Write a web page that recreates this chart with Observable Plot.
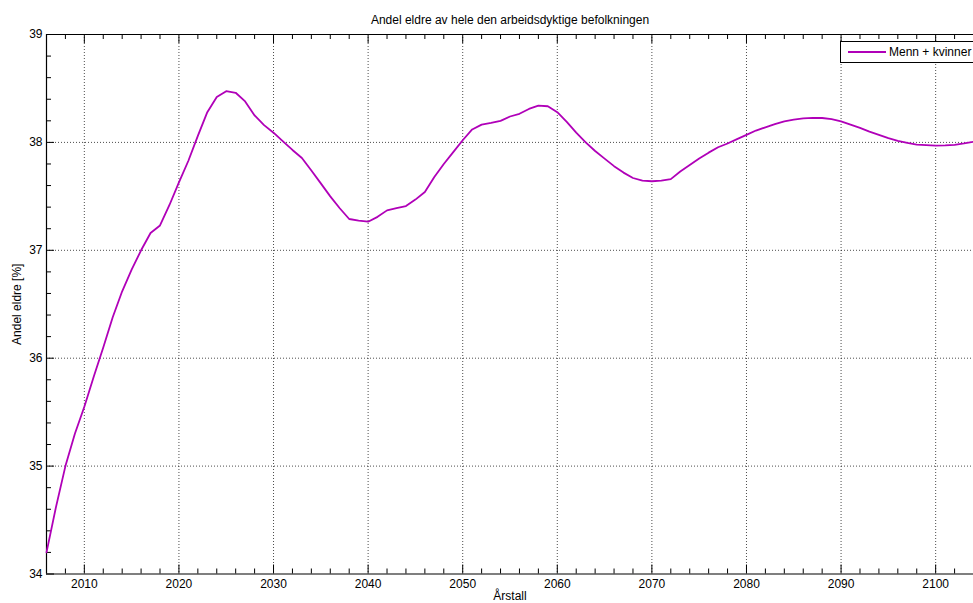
<!DOCTYPE html>
<html>
<head>
<meta charset="utf-8">
<script src="https://cdn.jsdelivr.net/npm/d3@7"></script>
<script src="https://cdn.jsdelivr.net/npm/@observablehq/plot@0.6"></script>
<style>
  html, body { margin: 0; padding: 0; background: #fff; }
  #wrap { position: relative; width: 973px; height: 603px; overflow: hidden; background: #fff; }
  #legend { position: absolute; left: 840px; top: 41px; width: 150px; height: 22px; box-sizing: border-box;
            border: 1px solid #000; background: #fff; font: 12px "Liberation Sans", Arial, sans-serif; color: #000; }
  #legend .swatch { position: absolute; left: 7px; top: 9px; width: 38px; height: 0; border-top: 2px solid #b000b8; }
  #legend .lab { position: absolute; left: 48px; top: 3px; white-space: nowrap; }
</style>
</head>
<body>
<div id="wrap"><div id="chart"></div>
  <div id="legend"><div class="swatch"></div><div class="lab" id="legendLabel"></div></div>
</div>
<script>
const title = "Andel eldre av hele den arbeidsdyktige befolkningen";
const xLabel = "Årstall";
const yLabel = "Andel eldre [%]";
const seriesName = "Menn + kvinner";

const years = [2006,2007,2008,2009,2010,2011,2012,2013,2014,2015,2016,2017,2018,2019,
  2020,2021,2022,2023,2024,2025,2026,2027,2028,2029,2030,2031,2032,2033,2034,2035,2036,2037,2038,2039,
  2040,2041,2042,2043,2044,2045,2046,2047,2048,2049,2050,2051,2052,2053,2054,2055,2056,2057,2058,2059,
  2060,2061,2062,2063,2064,2065,2066,2067,2068,2069,2070,2071,2072,2073,2074,2075,2076,2077,2078,2079,
  2080,2081,2082,2083,2084,2085,2086,2087,2088,2089,2090,2091,2092,2093,2094,2095,2096,2097,2098,2099,
  2100,2101,2102,2103,2104];
const values = [34.20,34.62,35.00,35.30,35.55,35.83,36.10,36.38,36.62,36.82,37.00,37.16,37.23,37.42,
  37.63,37.83,38.06,38.28,38.42,38.475,38.46,38.38,38.25,38.16,38.09,38.01,37.93,37.855,37.74,37.62,37.50,37.39,37.29,37.275,
  37.265,37.31,37.37,37.39,37.41,37.47,37.54,37.68,37.80,37.91,38.02,38.12,38.165,38.18,38.20,38.24,38.265,38.31,38.34,38.335,
  38.28,38.19,38.09,38.00,37.92,37.85,37.78,37.72,37.67,37.645,37.64,37.645,37.66,37.73,37.79,37.85,37.905,37.955,37.99,38.03,
  38.07,38.11,38.14,38.17,38.195,38.212,38.222,38.228,38.226,38.215,38.195,38.165,38.135,38.10,38.07,38.04,38.015,37.995,37.98,37.975,
  37.97,37.972,37.978,37.99,38.005];

const xMajor = [2010,2020,2030,2040,2050,2060,2070,2080,2090,2100];
const xMinor = [2008,2012,2014,2016,2018,2022,2024,2026,2028,2032,2034,2036,2038,2042,2044,2046,2048,
  2052,2054,2056,2058,2062,2064,2066,2068,2072,2074,2076,2078,2082,2084,2086,2088,2092,2094,2096,2098,2102];
const yMajor = [34,35,36,37,38,39];
const yMinor = [34.2,34.4,34.6,34.8,35.2,35.4,35.6,35.8,36.2,36.4,36.6,36.8,37.2,37.4,37.6,37.8,38.2,38.4,38.6,38.8];
const xDomain = [2006, 2104];
const yDomain = [34, 39];

const data = years.map((y, i) => ({year: y, value: values[i]}));
const lineColor = "#b000b8";
const font = "'Liberation Sans', Arial, sans-serif";

const chart = Plot.plot({
  width: 973,
  height: 603,
  marginLeft: 46,
  marginRight: 0,
  marginTop: 34,
  marginBottom: 29.5,
  style: {fontFamily: font, fontSize: "12px", background: "#fff", color: "#000"},
  x: {domain: xDomain},
  y: {domain: yDomain},
  marks: [
    Plot.gridX(xMajor, {stroke: "#000", strokeOpacity: 0.7, strokeDasharray: "1,2"}),
    Plot.gridY(yMajor.filter(v => v > yDomain[0] && v < yDomain[1]), {stroke: "#000", strokeOpacity: 0.7, strokeDasharray: "1,2"}),
    Plot.axisX(xMajor, {tickSize: 0, tickPadding: 5, tickFormat: d => String(d), label: null, fontSize: 12}),
    Plot.axisY(yMajor, {tickSize: 0, tickPadding: 4, tickFormat: d => String(d), label: null, fontSize: 12}),
    // inward ticks, bottom and top
    Plot.ruleX(xMajor, {y1: yDomain[0], y2: yDomain[0], insetBottom: 9, stroke: "#000"}),
    Plot.ruleX(xMinor, {y1: yDomain[0], y2: yDomain[0], insetBottom: 5, stroke: "#000"}),
    Plot.ruleX(xMajor, {y1: yDomain[1], y2: yDomain[1], insetTop: 9, stroke: "#000"}),
    Plot.ruleX(xMinor, {y1: yDomain[1], y2: yDomain[1], insetTop: 5, stroke: "#000"}),
    // inward ticks, left
    Plot.ruleY(yMajor, {x1: xDomain[0], x2: xDomain[0], insetRight: -8, stroke: "#000"}),
    Plot.ruleY(yMinor, {x1: xDomain[0], x2: xDomain[0], insetRight: -5, stroke: "#000"}),
    // box lines
    Plot.ruleY([yDomain[0]], {stroke: "#000", strokeWidth: 1.2}),
    Plot.ruleY([yDomain[1]], {stroke: "#000", strokeWidth: 1.2}),
    Plot.ruleX([xDomain[0]], {stroke: "#000", strokeWidth: 1.2}),
    Plot.line(data, {x: "year", y: "value", stroke: lineColor, strokeWidth: 1.8}),
    Plot.text([title], {frameAnchor: "top", lineAnchor: "top", textAnchor: "middle", dy: -19, fontSize: 12, fill: "#000"}),
    Plot.text([yLabel], {frameAnchor: "left", lineAnchor: "middle", textAnchor: "middle", rotate: -90, dx: -29, fontSize: 12, fill: "#000"}),
    Plot.text([xLabel], {frameAnchor: "bottom", lineAnchor: "top", textAnchor: "middle", dy: 17, fontSize: 12, fill: "#000"})
  ]
});
document.getElementById("chart").appendChild(chart);
document.getElementById("legendLabel").textContent = seriesName;
</script>
</body>
</html>
